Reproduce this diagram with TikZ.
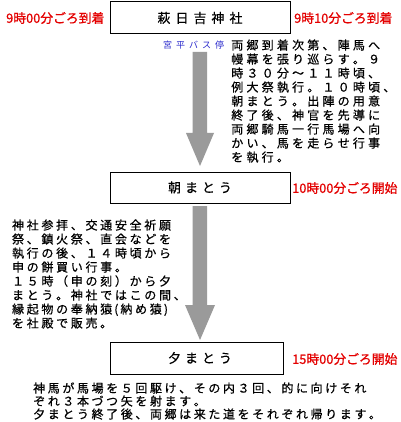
\documentclass[tikz,border=0pt]{standalone}
\usepackage{fontspec}
\usetikzlibrary{calc}
\newfontfamily\jpbody[FakeBold=0.6]{Noto Sans CJK JP}
\newfontfamily\jpbox[FakeBold=0.5]{Noto Sans CJK JP}
\newfontfamily\jpsmall{Noto Sans CJK JP}
\newfontfamily\jpred[FakeBold=0.8]{Noto Sans CJK JP}
\definecolor{timered}{HTML}{E40000}
\definecolor{stopblue}{HTML}{2A2ACC}
\definecolor{arrowgray}{HTML}{9A9A9A}
\ExplSyntaxOn
\NewDocumentCommand\gridtext{m m}
 {
  \tl_set:Nx \l_tmpa_tl {#2}
  \tl_map_inline:Nn \l_tmpa_tl
   {
    \str_case:nnF {##1}
     {
      {(} { \makebox[5.5pt][c]{(} }
      {)} { \makebox[5.5pt][c]{)} }
     }
     { \makebox[#1][c]{##1} }
   }
 }
\ExplSyntaxOff
\tikzset{
  stepbox/.style={draw=black, line width=1pt, fill=white, inner sep=0pt,
    font={\jpbox\fontsize{13}{15}\selectfont}},
  timelabel/.style={anchor=west, inner sep=0pt, text=timered,
    font={\jpred\fontsize{12.8}{15}\selectfont}},
  bodyline/.style={anchor=base west, inner sep=0pt},
  blockarrow/.style={fill=arrowgray, draw=none}
}
\begin{document}
\begin{tikzpicture}[x=1pt,y=-1pt]
\useasboundingbox (0,0) rectangle (400,422);
\fill[white] (0,0) rectangle (400,422);

% boxes
\node[stepbox, minimum width=180pt, minimum height=32pt] (b1) at (200,18) {\gridtext{18pt}{萩日吉神社}};
\node[stepbox, minimum width=180pt, minimum height=31pt] (b2) at (200,187.5) {\gridtext{17pt}{朝まとう}};
\node[stepbox, minimum width=173pt, minimum height=32pt] (b3) at (196.5,358) {\hspace*{7pt}\gridtext{17pt}{夕まとう}};

% time labels
\node[timelabel] (t1) at (6,18) {9時00分ごろ到着};
\node[timelabel] (t2) at (294,18) {9時10分ごろ到着};
\node[timelabel] (t3) at (292,188) {10時00分ごろ開始};
\node[timelabel] (t4) at (292,359) {15時00分ごろ開始};

% bus stop
\node[anchor=west, inner sep=0pt, text=stopblue, font={\jpsmall\fontsize{9}{11}\selectfont}] (bus) at (161,45) {\gridtext{13pt}{宮平バス停}};

% arrows
\coordinate (a1s) at (200,52);
\coordinate (a1e) at (200,166);
\coordinate (a2s) at (200,206);
\coordinate (a2e) at (200,340);
\fill[blockarrow] ($(a1s)+(-7.5,0)$) -- ($(a1s)+(7,0)$) -- ($(a1e)+(7,-33)$) -- ($(a1e)+(14,-33)$)
  -- (a1e) -- ($(a1e)+(-14,-33)$) -- ($(a1e)+(-7.5,-33)$) -- cycle;
\fill[blockarrow] ($(a2s)+(-7.5,0)$) -- ($(a2s)+(7,0)$) -- ($(a2e)+(7,-35)$) -- ($(a2e)+(15,-35)$)
  -- (a2e) -- ($(a2e)+(-15,-35)$) -- ($(a2e)+(-7.5,-35)$) -- cycle;

% text blocks, one node per line
\foreach \t [count=\i] in {両郷到着次第、陣馬へ,幔幕を張り巡らす。９,時３０分～１１時頃、,
  例大祭執行。１０時頃、,朝まとう。出陣の用意,終了後、神官を先導に,
  両郷騎馬一行馬場へ向,かい、馬を走らせ行事,を執行。}
  \node[bodyline, font={\jpbody\fontsize{12}{14}\selectfont}] (r\i) at (229.5,{49.6+14*(\i-1)}) {\gridtext{15.2pt}{\t}};

\foreach \t [count=\i] in {神社参拝、交通安全祈願,祭、鎮火祭、直会などを,執行の後、１４時頃から,
  申の餅買い行事。,１５時（申の刻）から夕,まとう。神社ではこの間、,
  縁起物の奉納猿(納め猿),を社殿で販売。}
  \node[bodyline, font={\jpbody\fontsize{12}{14}\selectfont}] (l\i) at (10.5,{229.6+14*(\i-1)}) {\gridtext{14.7pt}{\t}};

\foreach \t [count=\i] in {神馬が馬場を５回駆け、その内３回、的に向けそれ,
  ぞれ３本づつ矢を射ます。,夕まとう終了後、両郷は来た道をそれぞれ帰ります。}
  \node[bodyline, font={\jpbody\fontsize{12}{13}\selectfont}] (s\i) at (31.7,{392.6+13*(\i-1)}) {\gridtext{14.6pt}{\t}};
\end{tikzpicture}
\end{document}
